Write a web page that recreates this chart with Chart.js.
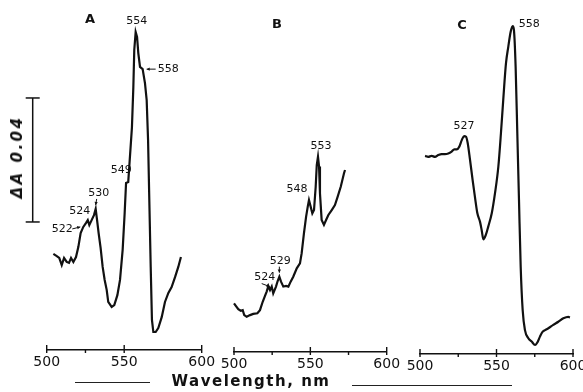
<!DOCTYPE html>
<html>
<head>
<meta charset="utf-8">
<script src="https://cdn.jsdelivr.net/npm/chart.js@4.4.0/dist/chart.umd.min.js"></script>
<style>
    html, body { margin: 0; padding: 0; background: #fff; overflow: hidden; }
    #lienzo { position: relative; width: 583px; height: 392px; overflow: hidden; }
    #lienzo canvas { position: absolute; top: 0; }
    .texto { position: absolute; color: #111; font-family: "DejaVu Sans", sans-serif; white-space: nowrap; transform: translate(-50%, -50%); }
    .letra { font-size: 13px; font-weight: bold; }
    .raya { position: absolute; height: 0; border-top: 1.3px solid #222; }
</style>
</head>
<body>
<div id="lienzo">
    <canvas id="graficoA" width="225" height="392" style="left:0px"></canvas>
    <canvas id="graficoB" width="205" height="392" style="left:205px"></canvas>
    <canvas id="graficoC" width="205" height="392" style="left:395px"></canvas>

    <div class="texto letra" style="left:90px; top:18px">A</div>
    <div class="texto letra" style="left:277px; top:23px">B</div>
    <div class="texto letra" style="left:462px; top:24px">C</div>

    <div class="texto" style="left:17px; top:157px; transform: translate(-50%, -50%) rotate(-90deg); font-size: 15px; font-weight: bold; font-style: italic; letter-spacing: 2.5px">ΔA 0.04</div>

    <div class="texto" style="left:251px; top:381px; font-size: 15px; font-weight: bold; letter-spacing: 1.5px">Wavelength, nm</div>
    <div class="raya" style="left:75px; top:382px; width:75px"></div>
    <div class="raya" style="left:352px; top:385px; width:160px"></div>
</div>

<script>
// Datos (longitud de onda en nm, ΔA)
const longitudA = [504.3, 506.5, 508.1, 509.7, 511.2, 512.9, 514.4, 515.7, 517.2, 518.9,
    520.4, 521.9, 523.6, 525.4, 526.5, 527.5, 529.0, 530.5, 531.6, 532.5,
    533.5, 534.8, 536.1, 537.4, 538.7, 539.7, 541.9, 543.6, 545.6, 547.3,
    549.0, 550.3, 551.2, 552.6, 553.7, 555.0, 555.9, 556.5, 557.4, 558.3,
    559.1, 560.2, 561.9, 563.4, 564.5, 565.4, 566.2, 567.1, 567.9, 568.8,
    570.3, 572.0, 574.2, 576.3, 578.5, 580.6, 582.8, 584.9, 586.6];
const valoresA = [0.0310, 0.0303, 0.0297, 0.0274, 0.0297, 0.0284, 0.0281, 0.0297, 0.0284, 0.0300,
    0.0332, 0.0377, 0.0397, 0.0410, 0.0419, 0.0403, 0.0419, 0.0435, 0.0455, 0.0419,
    0.0377, 0.0329, 0.0268, 0.0226, 0.0194, 0.0155, 0.0139, 0.0145, 0.0177, 0.0226,
    0.0323, 0.0442, 0.0539, 0.0542, 0.0623, 0.0719, 0.0848, 0.0968, 0.1026, 0.1010,
    0.0958, 0.0913, 0.0906, 0.0861, 0.0806, 0.0677, 0.0484, 0.0268, 0.0097, 0.0058,
    0.0058, 0.0071, 0.0106, 0.0155, 0.0184, 0.0203, 0.0235, 0.0268, 0.0300];

const longitudB = [500.0, 501.3, 502.8, 504.4, 505.7, 506.7, 508.3, 510.5, 512.6, 515.3,
    517.0, 518.8, 520.3, 521.4, 522.5, 523.6, 524.7, 525.7, 527.5, 528.6,
    529.7, 530.8, 532.3, 534.1, 535.6, 537.1, 538.8, 541.1, 543.2, 544.3,
    545.8, 547.2, 548.3, 549.1, 550.2, 551.3, 552.4, 553.5, 554.2, 555.0,
    555.7, 556.3, 557.4, 558.9, 560.3, 561.8, 564.0, 566.1, 567.9, 569.9,
    572.0, 572.7];
const valoresB = [0.0157, 0.0148, 0.0138, 0.0133, 0.0135, 0.0119, 0.0114, 0.0119, 0.0123, 0.0125,
    0.0135, 0.0162, 0.0181, 0.0195, 0.0213, 0.0200, 0.0211, 0.0189, 0.0211, 0.0229,
    0.0243, 0.0227, 0.0211, 0.0213, 0.0211, 0.0227, 0.0243, 0.0270, 0.0286, 0.0318,
    0.0383, 0.0436, 0.0469, 0.0490, 0.0469, 0.0447, 0.0458, 0.0533, 0.0603, 0.0630,
    0.0598, 0.0512, 0.0426, 0.0410, 0.0426, 0.0442, 0.0458, 0.0474, 0.0501, 0.0533,
    0.0576, 0.0587];

const longitudC = [503.3, 505.4, 507.6, 509.8, 512.0, 514.2, 516.3, 518.5, 520.7, 522.4,
    524.0, 525.7, 527.3, 528.8, 530.1, 531.2, 532.7, 534.4, 535.9, 537.5,
    539.2, 540.3, 541.4, 543.0, 544.6, 546.9, 549.0, 551.2, 552.9, 554.4,
    556.2, 557.7, 559.3, 560.6, 561.4, 562.5, 563.6, 564.7, 565.8, 567.1,
    568.6, 570.8, 573.0, 575.2, 577.0, 578.4, 580.2, 581.7, 583.9, 587.1,
    590.4, 593.7, 596.9, 598.0];
const valoresC = [0.0639, 0.0636, 0.0639, 0.0636, 0.0642, 0.0645, 0.0645, 0.0647, 0.0653, 0.0660,
    0.0660, 0.0669, 0.0690, 0.0703, 0.0701, 0.0680, 0.0626, 0.0561, 0.0507, 0.0454,
    0.0427, 0.0400, 0.0370, 0.0384, 0.0411, 0.0454, 0.0518, 0.0604, 0.0712, 0.0819,
    0.0938, 0.0991, 0.1040, 0.1058, 0.1045, 0.0927, 0.0712, 0.0497, 0.0282, 0.0142,
    0.0077, 0.0051, 0.0040, 0.0029, 0.0040, 0.0056, 0.0072, 0.0077, 0.0083, 0.0094,
    0.0104, 0.0115, 0.0120, 0.0118];

// Eje x
const marcasMayores = [500, 550, 600];
const marcasMenores = [525, 575];

// Barra de escala ΔA
const escalaDeltaA = 0.04;
const baseEscala = 0.0413;

function linea(ctx, x1, y1, x2, y2) {
    ctx.beginPath();
    ctx.moveTo(x1, y1);
    ctx.lineTo(x2, y2);
    ctx.stroke();
}

function flecha(ctx, x1, y1, x2, y2) {
    linea(ctx, x1, y1, x2, y2);
    const ang = Math.atan2(y2 - y1, x2 - x1);
    ctx.beginPath();
    ctx.moveTo(x2, y2);
    ctx.lineTo(x2 - 3.5 * Math.cos(ang - 0.5), y2 - 3.5 * Math.sin(ang - 0.5));
    ctx.lineTo(x2 - 3.5 * Math.cos(ang + 0.5), y2 - 3.5 * Math.sin(ang + 0.5));
    ctx.closePath();
    ctx.fill();
}

// Marcas del eje (las mayores cruzan la línea)
const pluginMarcas = {
    id: 'marcas',
    afterDraw(chart, args, opts) {
        const ctx = chart.ctx;
        const x = chart.scales.x;
        const y0 = chart.chartArea.bottom;
        ctx.save();
        ctx.strokeStyle = '#111';
        ctx.lineWidth = 1.4;
        marcasMayores.forEach(v => {
            const px = x.getPixelForValue(v);
            linea(ctx, px, y0 - 5, px, y0 + 3);
        });
        opts.menores.forEach(v => {
            const px = x.getPixelForValue(v);
            linea(ctx, px, y0, px, y0 + 3);
        });
        ctx.restore();
    }
};

// Etiquetas de los picos, ancladas a un punto de la serie
const pluginPicos = {
    id: 'picos',
    afterDatasetsDraw(chart, args, opts) {
        const ctx = chart.ctx;
        const meta = chart.getDatasetMeta(0);
        ctx.save();
        ctx.fillStyle = '#111';
        ctx.strokeStyle = '#111';
        ctx.lineWidth = 1;
        ctx.font = '11px "DejaVu Sans"';
        ctx.textBaseline = 'middle';
        opts.items.forEach(p => {
            const pt = meta.data[p.i];
            ctx.textAlign = p.alinear || 'center';
            ctx.fillText(p.texto, pt.x + p.dx, pt.y + p.dy);
            if (p.flecha) {
                const f = p.flecha;
                flecha(ctx, pt.x + f[0], pt.y + f[1], pt.x + f[2], pt.y + f[3]);
            }
        });
        ctx.restore();
    }
};

// Barra vertical de ΔA 0.04 (solo en el panel A)
const pluginEscala = {
    id: 'escala',
    afterDraw(chart) {
        const ctx = chart.ctx;
        const y = chart.scales.y;
        const px = chart.chartArea.left - 14;
        const arriba = y.getPixelForValue(baseEscala + escalaDeltaA);
        const abajo = y.getPixelForValue(baseEscala);
        ctx.save();
        ctx.strokeStyle = '#111';
        ctx.lineWidth = 1.5;
        linea(ctx, px, arriba, px, abajo);
        linea(ctx, px - 7, arriba, px + 7, arriba);
        linea(ctx, px - 7, abajo, px + 7, abajo);
        ctx.restore();
    }
};

function crearGrafico(id, longitudes, valores, cfg) {
    const ctx = document.getElementById(id).getContext('2d');
    return new Chart(ctx, {
        type: 'line',
        data: {
            datasets: [{
                data: longitudes.map((x, i) => ({ x: x, y: valores[i] })),
                borderColor: '#111',
                borderWidth: 2.2,
                pointRadius: 0,
                fill: false,
                cubicInterpolationMode: cfg.suave ? 'monotone' : 'default',
                clip: 8
            }]
        },
        options: {
            responsive: false,
            animation: false,
            layout: { padding: cfg.padding },
            plugins: {
                legend: { display: false },
                tooltip: { enabled: false },
                marcas: { menores: cfg.menores },
                picos: { items: cfg.picos }
            },
            scales: {
                x: {
                    type: 'linear',
                    min: 500,
                    max: 600,
                    grid: { display: false, tickLength: 3 },
                    border: { display: true, color: '#111', width: 1.5 },
                    ticks: {
                        stepSize: 25,
                        padding: 1,
                        autoSkip: false,
                        maxRotation: 0,
                        color: '#111',
                        font: { family: 'DejaVu Sans', size: 14 },
                        callback: v => marcasMayores.includes(v) ? String(v) : ''
                    },
                    afterFit: s => { s.height = 30; }
                },
                y: { display: false, min: 0, max: 0.11 }
            }
        },
        plugins: cfg.escala ? [pluginMarcas, pluginPicos, pluginEscala] : [pluginMarcas, pluginPicos]
    });
}

crearGrafico('graficoA', longitudA, valoresA, {
    padding: { left: 46.7, right: 23.3, top: 9, bottom: 12 },
    menores: [525],
    escala: true,
    picos: [
        { i: 38, texto: '554', dx: 1, dy: -11 },
        { i: 42, texto: '558', dx: 15, dy: 0, alinear: 'left', flecha: [13, 0, 4, 0] },
        { i: 33, texto: '549', dx: -7, dy: -12 },
        { i: 18, texto: '530', dx: 3, dy: -16, flecha: [1, -10, 0, -4] },
        { i: 14, texto: '524', dx: -8, dy: -9 },
        { i: 12, texto: '522', dx: -21, dy: 2, flecha: [-11, 2, -3, 0] }
    ]
});

crearGrafico('graficoB', longitudB, valoresB, {
    padding: { left: 29, right: 23.3, top: 11, bottom: 10 },
    menores: marcasMenores,
    picos: [
        { i: 39, texto: '553', dx: 3, dy: -11 },
        { i: 33, texto: '548', dx: -12, dy: -11 },
        { i: 20, texto: '529', dx: 1, dy: -16, flecha: [0, -10, 0, -4] },
        { i: 16, texto: '524', dx: -7, dy: -9, flecha: [-10, -3, -2, 0] }
    ]
});

crearGrafico('graficoC', longitudC, valoresC, {
    padding: { left: 25, right: 27, top: 13, bottom: 8 },
    menores: marcasMenores,
    suave: true,
    picos: [
        { i: 13, texto: '527', dx: 0, dy: -10 },
        { i: 33, texto: '558', dx: 6, dy: -2, alinear: 'left' }
    ]
});
</script>
</body>
</html>
